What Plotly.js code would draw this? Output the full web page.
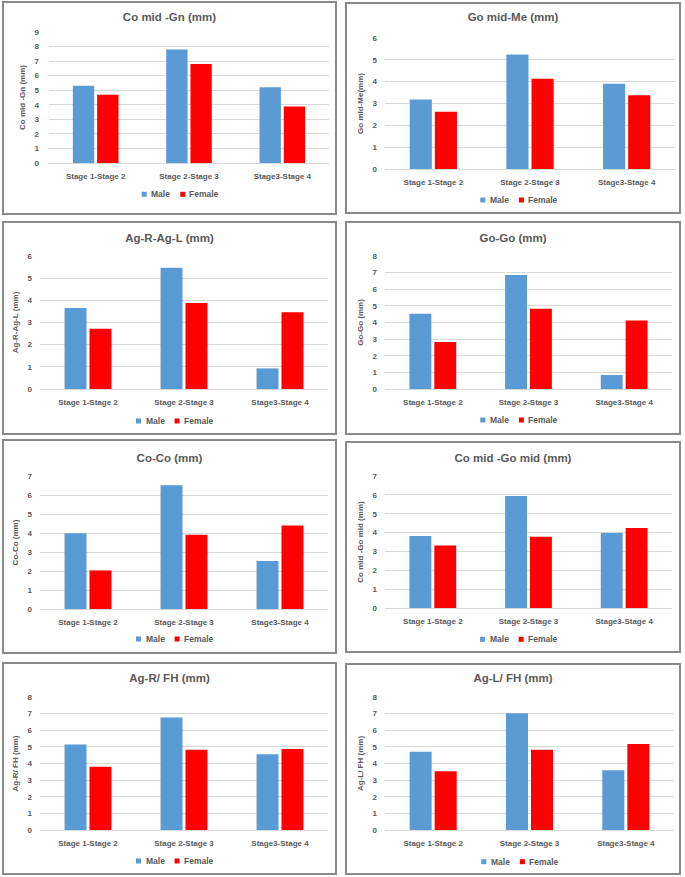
<!DOCTYPE html>
<html><head><meta charset="utf-8">
<script src="https://cdn.plot.ly/plotly-3.0.1.min.js"></script>
<style>
html,body{margin:0;padding:0;background:#fff;width:685px;height:877px;overflow:hidden;}
.p{position:absolute;}
.b{position:absolute;box-sizing:border-box;border:2px solid #8a8a8a;pointer-events:none;}
</style></head><body>
<script>
// ---- data ----
const categories = ['Stage 1-Stage 2', 'Stage 2-Stage 3', 'Stage3-Stage 4'];
const seriesNames = ['Male', 'Female'];
const chartTitles = ['Co mid -Gn (mm)', 'Go mid-Me (mm)', 'Ag-R-Ag-L (mm)', 'Go-Go (mm)',
                     'Co-Co (mm)', 'Co mid -Go mid (mm)', 'Ag-R/ FH (mm)', 'Ag-L/ FH (mm)'];
const yAxisTitles = ['Co mid -Gn (mm)', 'Go mid-Me(mm)', 'Ag-R-Ag-L (mm)', 'Go-Go (mm)',
                     'Co-Co (mm)', 'Co mid -Go mid (mm)', 'Ag-R/ FH (mm)', 'Ag-L/ FH (mm)'];
const yAxisMax = [9, 6, 6, 8, 7, 7, 8, 8];

const coMidGnMale = [5.31, 7.79, 5.20];
const coMidGnFemale = [4.69, 6.80, 3.89];
const goMidMeMale = [3.18, 5.24, 3.90];
const goMidMeFemale = [2.62, 4.13, 3.38];
const agRAgLMale = [3.65, 5.47, 0.93];
const agRAgLFemale = [2.72, 3.88, 3.46];
const goGoMale = [4.52, 6.85, 0.84];
const goGoFemale = [2.83, 4.82, 4.12];
const coCoMale = [3.99, 6.51, 2.52];
const coCoFemale = [2.03, 3.91, 4.39];
const coMidGoMidMale = [3.82, 5.94, 3.98];
const coMidGoMidFemale = [3.32, 3.78, 4.24];
const agRFHMale = [5.15, 6.76, 4.55];
const agRFHFemale = [3.81, 4.83, 4.87];
const agLFHMale = [4.71, 7.02, 3.59];
const agLFHFemale = [3.53, 4.83, 5.17];

const maleSeries = [coMidGnMale, goMidMeMale, agRAgLMale, goGoMale, coCoMale, coMidGoMidMale, agRFHMale, agLFHMale];
const femaleSeries = [coMidGnFemale, goMidMeFemale, agRAgLFemale, goGoFemale, coCoFemale, coMidGoMidFemale, agRFHFemale, agLFHFemale];

// ---- layout (pixels): left, top, width, height, mL, mR, mT, mB, titleY, legendLeft, legendY, yTickStandoff ----
const boxes = [
  [2, 1, 335, 214, 47, 8, 31, 52, 16, 139.7, 193.3, 9],
  [345, 2, 336, 212, 40, 6, 36, 45, 15, 135.3, 198, 7],
  [2, 221, 335, 214, 38, 9, 35, 46, 17, 134, 200, 7],
  [345, 221, 336, 214, 40, 9, 35, 46, 17, 135.3, 199, 7],
  [2, 439, 335, 215, 38, 9, 37, 45, 19, 134, 200, 7],
  [345, 441, 336, 212, 40, 9, 35, 45, 17, 135, 198.3, 7],
  [2, 662, 335, 213, 38, 9, 35, 45, 16, 134, 199, 7],
  [345, 663, 336, 212, 40, 7, 34, 45, 15, 136.3, 198.7, 7]
];
// legend item offsets from legend left (px): square left, text left
const legendItemOffsets = [[0, 7.6], [38.6, 45.6]];
const colors = ['#5B9BD5', '#FF0000'];
const txt = '#595959';
const FONT = 'Liberation Sans, Arial, sans-serif';

boxes.forEach((bx, i) => {
  const [L, T, W, H, ml, mr, mt, mb, ty, lgx, lgy, yso] = bx;
  const d = document.createElement('div');
  d.className = 'p';
  d.style.left = L + 'px'; d.style.top = T + 'px';
  d.style.width = W + 'px'; d.style.height = H + 'px';
  document.body.appendChild(d);
  const b = document.createElement('div');
  b.className = 'b';
  b.style.left = L + 'px'; b.style.top = T + 'px';
  b.style.width = W + 'px'; b.style.height = H + 'px';
  document.body.appendChild(b);

  const pw = W - ml - mr;
  const ph = H - mt - mb;
  const fx = px => (px - ml) / pw;
  const fy = py => (mt + ph - py) / ph;

  const traces = [
    {type: 'bar', x: categories, y: maleSeries[i], name: seriesNames[0], marker: {color: colors[0]}},
    {type: 'bar', x: categories, y: femaleSeries[i], name: seriesNames[1], marker: {color: colors[1]}}
  ];
  const shapes = [], annotations = [];
  legendItemOffsets.forEach((off, k) => {
    shapes.push({type: 'rect', xref: 'paper', yref: 'paper',
      x0: fx(lgx + off[0]), x1: fx(lgx + off[0] + 5),
      y0: fy(lgy + 2.5), y1: fy(lgy - 2.5),
      fillcolor: colors[k], line: {width: 0}});
    annotations.push({xref: 'paper', yref: 'paper', x: fx(lgx + off[1]), y: fy(lgy),
      xanchor: 'left', yanchor: 'middle', showarrow: false, text: seriesNames[k],
      font: {size: 8.5, weight: 'bold', color: txt, family: FONT}});
  });
  const layout = {
    width: W, height: H,
    margin: {l: ml, r: mr, t: mt, b: mb, pad: 0},
    paper_bgcolor: 'rgba(0,0,0,0)', plot_bgcolor: 'rgba(0,0,0,0)',
    font: {family: FONT, color: txt},
    title: {text: chartTitles[i], x: 0.5, xref: 'container', xanchor: 'center',
            y: 1 - ty / H, yref: 'container', yanchor: 'middle',
            font: {size: 11.5, weight: 'bold', color: txt, family: FONT}},
    barmode: 'group', bargap: 0.48, bargroupgap: 0.12,
    xaxis: {type: 'category', range: [-0.5, 2.5], showgrid: false, showline: false, zeroline: false,
            ticks: '', ticklabelstandoff: 7, automargin: false, tickangle: 0,
            tickfont: {size: 8, weight: 'bold', color: txt, family: FONT}, fixedrange: true},
    yaxis: {range: [0, yAxisMax[i]], dtick: 1, tick0: 0, showgrid: true, gridcolor: '#d9d9d9', gridwidth: 1,
            zeroline: true, zerolinecolor: '#d9d9d9', zerolinewidth: 1, showline: false,
            ticks: '', ticklabelstandoff: yso, automargin: false,
            tickfont: {size: 8, weight: 'bold', color: txt, family: FONT},
            title: {text: yAxisTitles[i], standoff: 7, font: {size: 8, weight: 'bold', color: txt, family: FONT}},
            fixedrange: true},
    showlegend: false,
    shapes: shapes,
    annotations: annotations,
    hovermode: false
  };
  Plotly.newPlot(d, traces, layout, {displayModeBar: false, staticPlot: true});
});
</script>
</body></html>
